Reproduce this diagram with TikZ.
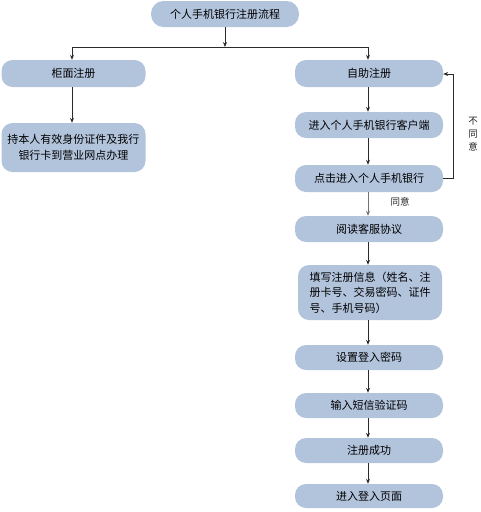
\documentclass[tikz,border=0pt]{standalone}
\usepackage{fontspec}
\setmainfont{Noto Sans CJK SC}
\usetikzlibrary{arrows.meta}
\definecolor{boxfill}{HTML}{B2C3DC}
\definecolor{lineclr}{HTML}{2A2A2A}
\tikzset{
  box/.style={rectangle, rounded corners=11pt, fill=boxfill, draw=none, inner sep=2pt, font=\fontsize{11}{15.5}\selectfont, text=black},
  conn/.style={draw=lineclr, line width=0.9pt, -{Stealth[length=5pt,width=4pt]}},
  plainline/.style={draw=lineclr, line width=0.9pt},
  lbl/.style={font=\fontsize{9.5}{13}\selectfont, text=black!85, inner sep=0pt}
}
\begin{document}
\begin{tikzpicture}[x=1pt,y=-1pt]
\useasboundingbox (0,0) rectangle (480,512);
\node[box, rounded corners=12.5pt, minimum width=148pt, minimum height=26pt] (title) at (225,14) {个人手机银行注册流程};
\node[box, minimum width=144pt, minimum height=27pt] (gm) at (73.5,73.5) {柜面注册};
\node[box, minimum width=144pt, minimum height=49pt, align=center] (cb) at (73.5,147.5) {持本人有效身份证件及我行\\银行卡到营业网点办理};
\node[box, minimum width=148pt, minimum height=27pt] (zz) at (369,73.5) {自助注册};
\node[box, minimum width=148pt, minimum height=26pt] (kh) at (369,125) {进入个人手机银行客户端};
\node[box, minimum width=148pt, minimum height=27pt] (dj) at (369,178.5) {点击进入个人手机银行};
\node[box, minimum width=148pt, minimum height=26pt] (yd) at (369,229) {阅读客服协议};
\node[box, minimum width=144pt, minimum height=55pt, align=left] (tx) at (370,292.5) {填写注册信息（姓名、注\\册卡号、交易密码、证件\\号、手机号码）};
\node[box, minimum width=148pt, minimum height=25pt] (sz) at (369,357.5) {设置登入密码};
\node[box, minimum width=148pt, minimum height=25pt] (sr) at (369,405.5) {输入短信验证码};
\node[box, minimum width=148pt, minimum height=25pt] (cg) at (369,450.5) {注册成功};
\node[box, minimum width=148pt, minimum height=24pt] (dl) at (369,496) {进入登入页面};
\coordinate (hl) at (72,47);
\coordinate (hr) at (368,47);
\coordinate (hm) at (225,47);
\draw[conn] (title.south) -- (hm);
\draw[plainline] (hl) -- (hr);
\draw[conn] (hl) -- (gm.north -| hl);
\draw[conn] (hr) -- (zz.north -| hr);
\draw[conn] (gm.south -| hl) -- (cb.north -| hl);
\draw[conn] (zz.south -| hr) -- (kh.north -| hr);
\draw[conn] (kh.south -| hr) -- (dj.north -| hr);
\draw[conn, draw=black!55] (dj.south -| hr) -- (yd.north -| hr);
\draw[conn] (yd.south -| hr) -- (tx.north -| hr);
\draw[conn] (tx.south -| hr) -- (sz.north -| hr);
\draw[conn] (sz.south -| hr) -- (sr.north -| hr);
\draw[conn] (sr.south -| hr) -- (cg.north -| hr);
\draw[conn] (cg.south -| hr) -- (dl.north -| hr);
\coordinate (fb) at (453,178);
\draw[conn] (dj.east |- fb) -- (fb) -- (453,74) -- (zz.east |- 0,74);
\node[lbl] (ty) at (400,202) {同意};
\node[lbl, align=center] (bty) at (473,134) {不\\同\\意};
\end{tikzpicture}
\end{document}
